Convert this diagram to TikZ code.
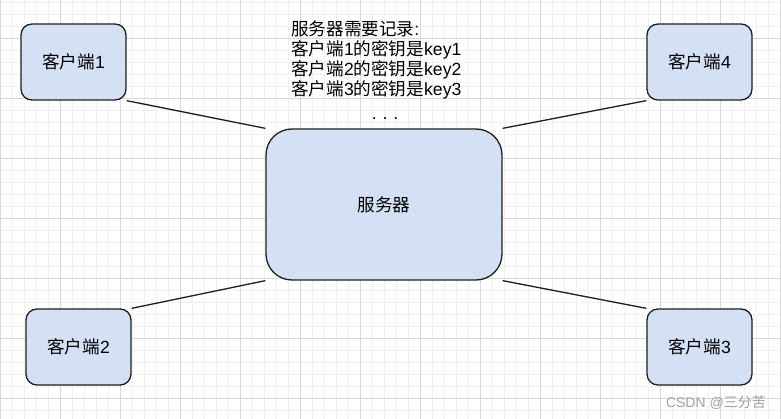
\documentclass[tikz,border=0pt]{standalone}
\usepackage{fontspec}
\setmainfont{Liberation Sans}
\newfontfamily\cjk{Noto Sans CJK SC}
\definecolor{boxfill}{RGB}{212,225,245}
\definecolor{boxdraw}{RGB}{30,30,30}
\definecolor{gridminor}{RGB}{240,240,240}
\definecolor{gridmajor}{RGB}{216,216,216}
\definecolor{wm}{RGB}{160,160,160}
\tikzset{
  client/.style={draw=boxdraw, fill=boxfill, line width=1.3pt, rounded corners=11pt,
    minimum width=105pt, minimum height=76pt, inner sep=0pt, font=\fontsize{17.6}{20}\selectfont},
  serverbox/.style={draw=boxdraw, fill=boxfill, line width=1.3pt, rounded corners=26pt,
    minimum width=236pt, minimum height=151pt, inner sep=0pt, font=\fontsize{17.6}{20}\selectfont},
  link/.style={draw=boxdraw, line width=1.3pt},
}
\begin{document}
\begin{tikzpicture}[x=1pt,y=-1pt]
\useasboundingbox (0,0) rectangle (781,419);
\fill[white] (0,0) rectangle (781,419);
% grid
\foreach \x in {0,12,...,780} \draw[gridminor, line width=0.8pt] (\x,0) -- (\x,419);
\foreach \y in {2,14,...,418} \draw[gridminor, line width=0.8pt] (0,\y) -- (781,\y);
\foreach \x in {0,60,...,780} \draw[gridmajor, line width=0.8pt] (\x,0) -- (\x,419);
\foreach \y in {38,98,...,418} \draw[gridmajor, line width=0.8pt] (0,\y) -- (781,\y);
% nodes
\node[client] (c1) at (73.5,62) {{\cjk 客户端}1};
\node[client] (c4) at (699.5,62) {{\cjk 客户端}4};
\node[client] (c2) at (78.5,347) {{\cjk 客户端}2};
\node[client] (c3) at (699.5,347) {{\cjk 客户端}3};
\node[serverbox] (srv) at (384,204.5) {{\cjk 服务器}};
% links
\draw[link] (c1.south east) -- (srv.north west);
\draw[link] (c4.south west) -- (srv.north east);
\draw[link] (c2.north east) -- (srv.south west);
\draw[link] (c3.north west) -- (srv.south east);
% note text
\node[anchor=north west, align=left, inner sep=0pt, font=\fontsize{17.6}{20}\selectfont] (note) at (291,21)
  {{\cjk 服务器需要记录}:\\
   {\cjk 客户端}1{\cjk 的密钥是}key1\\
   {\cjk 客户端}2{\cjk 的密钥是}key2\\
   {\cjk 客户端}3{\cjk 的密钥是}key3};
\node[inner sep=0pt, font=\fontsize{17.6}{20}\selectfont] (dots) at (385,119) {.\,\,.\,\,.};
% watermark
\node[anchor=east, inner sep=0pt, text=wm, font=\fontsize{14}{16}\selectfont] (wmark) at (766,403) {CSDN @{\cjk 三分苦}};
\end{tikzpicture}
\end{document}
